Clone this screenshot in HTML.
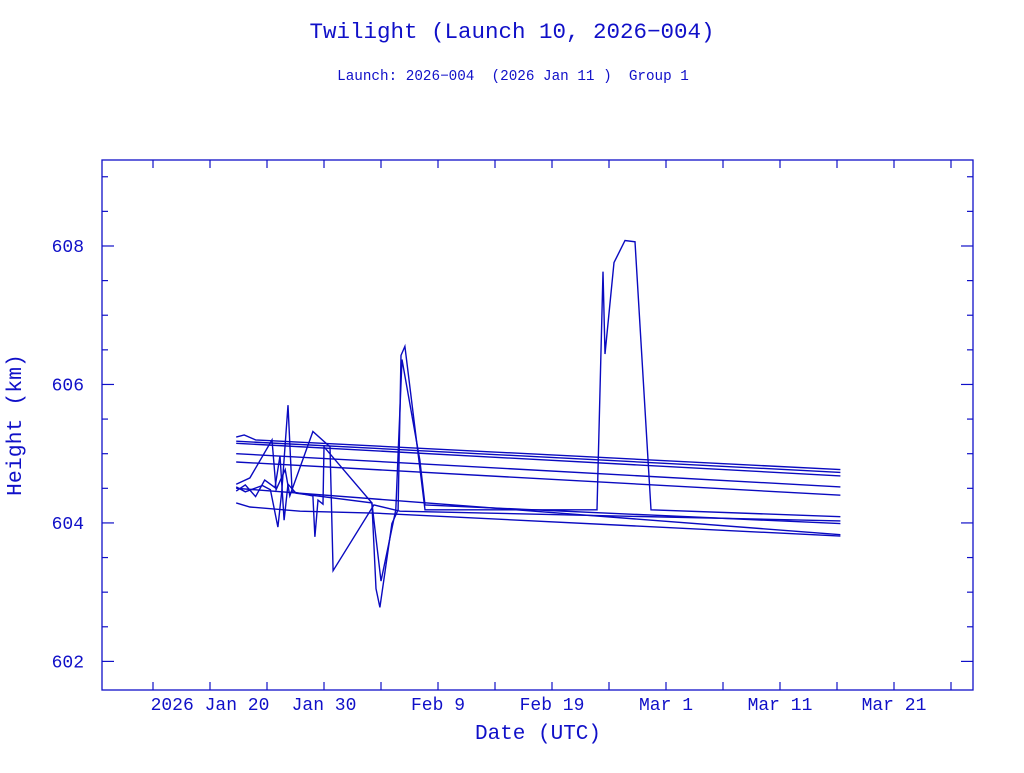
<!DOCTYPE html>
<html><head><meta charset="utf-8"><style>
html,body{margin:0;padding:0;background:#fff;}
svg text{font-family:"Liberation Mono",monospace;fill:#1010c8;}
</style></head><body>
<svg id="chart" width="1024" height="768" xmlns="http://www.w3.org/2000/svg">
<text x="512" y="38" font-size="22.5" text-anchor="middle">Twilight (Launch 10, 2026−004)</text>
<text x="513" y="80" font-size="14.3" text-anchor="middle" xml:space="preserve">Launch: 2026−004  (2026 Jan 11 )  Group 1</text>
<text x="538" y="739" font-size="21" text-anchor="middle">Date (UTC)</text>
<text transform="translate(21,425) rotate(-90)" font-size="21.5" text-anchor="middle">Height (km)</text>
<rect x="102" y="160" width="871" height="530" fill="none" stroke="#1010c8" stroke-width="1.3"/>
<g id="ticks"></g><g id="series"></g>
</svg>
<script>
const xTickLabels=["2026 Jan 20","Jan 30","Feb  9","Feb 19","Mar  1","Mar 11","Mar 21"];
const xTickDays=[0,10,20,30,40,50,60];
const yTickValues=[602,604,606,608];
// series: days since 2026 Jan 20, heights in km
const sA_days=[2.3,3,4,55.3];      const sA_h=[605.24,605.27,605.2,604.77];
const sB_days=[2.3,55.3];          const sB_h=[605.18,604.73];
const sC_days=[2.3,55.3];          const sC_h=[605.15,604.68];
const sD_days=[2.3,55.3];          const sD_h=[605.0,604.52];
const sE_days=[2.3,55.3];          const sE_h=[604.88,604.40];
const sF_days=[2.3,3.1,4.6,5.3,5.96,6.3,6.84,7.2,9.03,9.2,9.47,9.91,10.0,14.2,14.56,14.9,15.96,16.5,16.75,17.1,18.86,33.95,34.47,34.65,35.44,36.4,37.28,38.68,55.3];
const sF_h=[604.52,604.45,604.54,604.48,603.94,604.46,605.70,604.45,604.39,603.80,604.33,604.27,605.10,604.29,603.05,602.78,603.99,604.19,606.42,606.55,604.19,604.19,607.63,606.44,607.76,608.08,608.06,604.19,604.09];
const sG_days=[2.3,3.5,7.9,14.65,55.3];const sG_h=[604.29,604.23,604.17,604.14,603.81];
const sH_days=[2.3,3.1,4.0,4.8,5.7,6.14,6.5,6.84,7.54,14.2,15.0,16.3,16.84,18.4,18.86,55.3];
const sH_h=[604.46,604.55,604.38,604.62,604.51,604.97,604.04,604.56,604.43,604.29,603.16,604.19,606.36,604.91,604.26,603.99];
const sI_days=[2.3,3.5,5.44,5.8,6.6,7.0,9.03,10.53,10.8,14.38,16.67,55.3];
const sI_h=[604.56,604.65,605.20,604.48,604.77,604.39,605.32,605.10,603.31,604.26,604.17,604.03];
const sJ_days=[2.3,55.3];          const sJ_h=[604.50,603.83];
const series=[[sA_days,sA_h],[sB_days,sB_h],[sC_days,sC_h],[sD_days,sD_h],[sE_days,sE_h],[sF_days,sF_h],[sG_days,sG_h],[sH_days,sH_h],[sI_days,sI_h],[sJ_days,sJ_h]];
const X0=102,X1=973,Y0=690,Y1=160,DMIN=-9.474,DMAX=66.93,HMIN=601.587,HMAX=609.242;
const xs=d=>X0+(d-DMIN)/(DMAX-DMIN)*(X1-X0);
const ys=h=>Y0-(h-HMIN)/(HMAX-HMIN)*(Y0-Y1);
const NS="http://www.w3.org/2000/svg";
const tg=document.getElementById('ticks'),sg=document.getElementById('series');
function ln(g,x1,y1,x2,y2,name){const l=document.createElementNS(NS,'line');
l.setAttribute('x1',x1);l.setAttribute('y1',y1);l.setAttribute('x2',x2);l.setAttribute('y2',y2);
l.setAttribute('stroke','#1010c8');l.setAttribute('stroke-width','1.2');


g.appendChild(l);}
for(let d=-5;d<=65;d+=5){const x=xs(d);ln(tg,x,Y0,x,Y0-8,'x-tick');ln(tg,x,Y1,x,Y1+8,'x-tick-top');}
for(let h=602;h<=609;h+=0.5){const y=ys(h);const L=(Math.abs(h-Math.round(h))<0.01&&Math.round(h)%2===0)?12:6;
ln(tg,X0,y,X0+L,y,'y-tick');ln(tg,X1,y,X1-L,y,'y-tick-right');}
xTickLabels.forEach((s,i)=>{const t=document.createElementNS(NS,'text');t.setAttribute('x',xs(xTickDays[i]));t.setAttribute('y',710);
t.setAttribute('font-size','18');t.setAttribute('text-anchor','middle');t.setAttribute('xml:space','preserve');t.textContent=s;


tg.appendChild(t);});
yTickValues.forEach(v=>{const t=document.createElementNS(NS,'text');t.setAttribute('x',84);t.setAttribute('y',ys(v)+6);
t.setAttribute('font-size','18');t.setAttribute('text-anchor','end');t.textContent=v;


tg.appendChild(t);});
series.forEach((s,i)=>{const p=document.createElementNS(NS,'polyline');
p.setAttribute('points',s[0].map((d,j)=>xs(d).toFixed(1)+','+ys(s[1][j]).toFixed(1)).join(' '));
p.setAttribute('fill','none');p.setAttribute('stroke','#0a0ac0');p.setAttribute('stroke-width','1.4');


sg.appendChild(p);});
</script>
</body></html>
